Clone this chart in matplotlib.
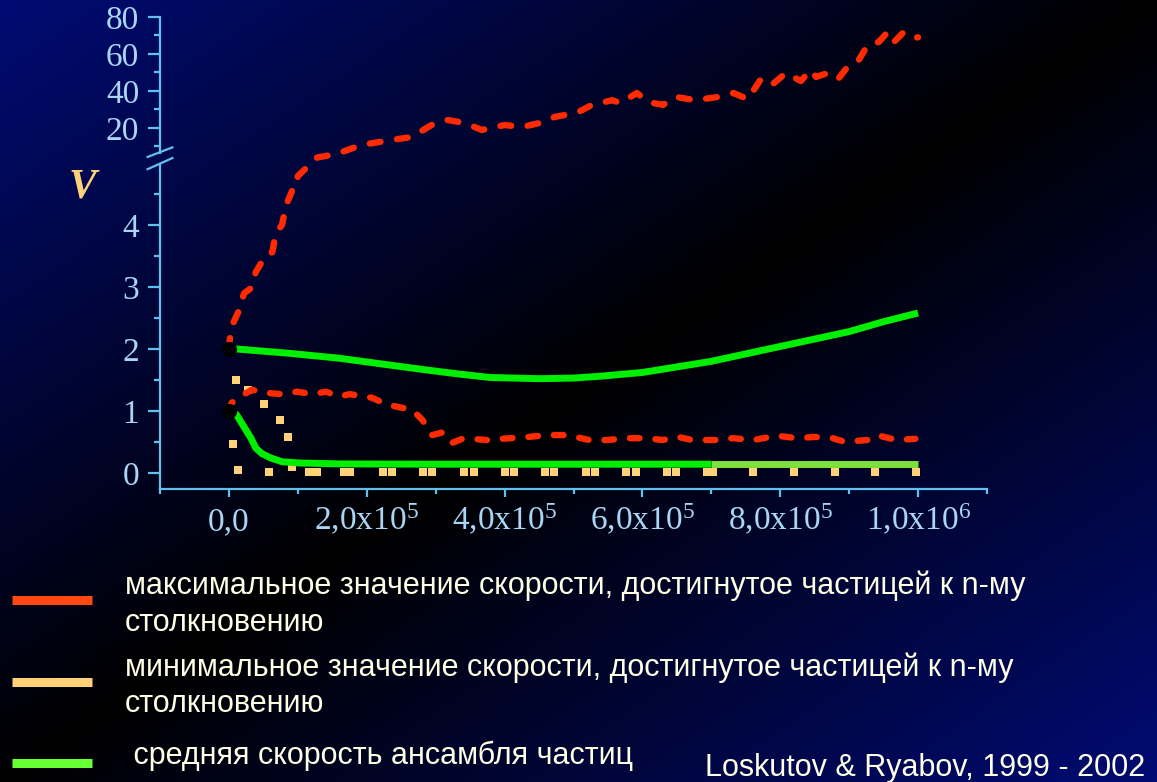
import numpy as np
import matplotlib
matplotlib.use("Agg")
import matplotlib.pyplot as plt
from matplotlib.lines import Line2D

plt.rcParams['font.family'] = 'Liberation Serif'
plt.rcParams['mathtext.fontset'] = 'custom'
plt.rcParams['mathtext.rm'] = 'Liberation Serif'
plt.rcParams['mathtext.it'] = 'Liberation Serif:italic'

# n (number of collisions) in units of 1e5
# max velocity, start V0 = 2
red_hi_x = [0, 0.03, 0.15, 0.22, 0.32, 0.39, 0.47, 0.54, 0.63, 0.68, 0.77, 0.83, 0.92, 0.98, 1.0,
            1.28, 1.5, 1.64, 1.92, 2.36, 2.65, 2.94, 3.17, 3.42, 3.67, 4.0, 4.25, 4.51, 4.73, 5.05,
            5.27, 5.56, 5.68, 5.92, 6.08, 6.3, 6.48, 6.77, 7.1, 7.32, 7.53, 7.71, 7.86, 8.08, 8.3,
            8.44, 8.52, 8.69, 8.84, 9.0, 9.14, 9.27, 9.43, 9.56, 9.65, 9.78, 9.87, 10.0]
red_hi_v = [2.0, 2.34, 2.63, 2.9, 2.98, 3.24, 3.39, 3.52, 3.56, 3.87, 4.0, 4.32, 4.56, 4.6, 4.79,
            6.0, 6.5, 7.0, 10.8, 13.5, 15.1, 21.6, 24.3, 22.7, 18.9, 21.6, 20.5, 22.7, 26.0, 28.2,
            32.5, 35.0, 33.5, 38.9, 34.0, 32.5, 36.8, 35.0, 36.8, 38.9, 35.6, 45.9, 42.7, 49.7, 45.4,
            51.4, 47.6, 49.7, 46.5, 54.1, 56.8, 64.9, 66.5, 71.9, 66.5, 71.4, 68.6, 69.0]

# max velocity, start V0 = 1
red_lo_x = [0, 0.04, 0.13, 0.33, 0.48, 0.55, 0.77, 0.99, 1.21, 1.41, 1.6, 1.75, 1.99, 2.08, 2.3,
            2.47, 2.66, 2.81, 2.95, 3.09, 3.23, 3.41, 3.74, 4.08, 4.34, 4.63, 4.91, 5.23, 5.49, 5.76,
            6.08, 6.29, 6.52, 6.72, 7.05, 7.31, 7.61, 7.95, 8.24, 8.5, 8.76, 8.94, 9.26, 9.4, 9.69, 9.96]
red_lo_v = [1.0, 1.13, 1.21, 1.34, 1.31, 1.29, 1.27, 1.31, 1.27, 1.31, 1.23, 1.27, 1.23, 1.21, 1.1,
            1.06, 1.02, 0.85, 0.61, 0.65, 0.48, 0.56, 0.53, 0.56, 0.58, 0.61, 0.61, 0.53, 0.53, 0.56,
            0.56, 0.53, 0.58, 0.53, 0.53, 0.56, 0.53, 0.6, 0.56, 0.58, 0.56, 0.5, 0.53, 0.61, 0.53, 0.55]

# mean velocity of the ensemble
mean_hi_x = [0, 0.1, 0.87, 1.6, 2.2, 2.87, 3.3, 3.78, 4.5, 5.0, 5.39, 6.0, 6.5, 7.0, 7.5, 8.0, 8.5, 9.0, 9.5, 10.0]
mean_hi_v = [2.0, 2.0, 1.93, 1.85, 1.76, 1.66, 1.6, 1.54, 1.52, 1.53, 1.56, 1.62, 1.71, 1.8, 1.92, 2.04, 2.16, 2.28, 2.44, 2.58]
mean_lo_x = [0, 0.05, 0.11, 0.22, 0.32, 0.39, 0.48, 0.61, 0.77, 1.02, 1.6, 3.0, 4.0, 5.0, 6.0, 7.0]
mean_lo_v = [1.0, 0.98, 0.94, 0.74, 0.56, 0.40, 0.31, 0.24, 0.18, 0.16, 0.145, 0.14, 0.14, 0.14, 0.14, 0.14]
mean_tail_x = [7.0, 8.0, 9.0, 10.0]
mean_tail_v = [0.14, 0.14, 0.14, 0.14]

# min velocity (sampled points)
min_hi_x = [0.11, 0.27, 0.51, 0.74, 0.86, 0.92, 1.28, 1.76, 2.37, 2.95, 3.55, 4.13, 4.72, 5.31, 5.9,
            6.49, 7.02, 7.61, 8.2, 8.79, 9.38, 9.97]
min_hi_v = [1.5, 1.33, 1.11, 0.85, 0.58, 0.1, 0.01, 0.01, 0.01, 0.01, 0.01, 0.01, 0.01, 0.01, 0.01,
            0.01, 0.01, 0.01, 0.01, 0.01, 0.01, 0.01]
min_lo_x = [0.06, 0.13, 0.58, 1.16, 1.67, 2.23, 2.82, 3.41, 4.0, 4.58, 5.18, 5.76, 6.36, 6.94]
min_lo_v = [0.47, 0.05, 0.01, 0.01, 0.01, 0.01, 0.01, 0.01, 0.01, 0.01, 0.01, 0.01, 0.01, 0.01]

start_x = [0, 0]
start_v = [2.0, 1.0]

xticks = [0, 2, 4, 6, 8, 10]
xlabels = ['0,0', r'2,0x10$^{5}$', r'4,0x10$^{5}$', r'6,0x10$^{5}$', r'8,0x10$^{5}$', r'1,0x10$^{6}$']
yticks = [0, 1, 2, 3, 4, 20, 40, 60, 80]
yminor = [0.5, 1.5, 2.5, 3.5, 4.5, 10, 30, 50, 70]

RED = '#ff2a00'
YEL = '#ffd27a'
GRN = '#00ee00'
GRN2 = '#7ee03c'
AXC = '#62bfee'
TXC = '#a8d6f4'
CREAM = '#ffffe6'


# broken y axis: linear 0..5, squeezed gap, then 7..80
def fwd(v):
    v = np.asarray(v, dtype=float)
    return np.where(v <= 5, v * 62.0, np.where(v <= 7, 310 + (v - 5) * 5.5, 321 + (v - 7) * 1.85))


def inv(p):
    p = np.asarray(p, dtype=float)
    return np.where(p <= 310, p / 62.0, np.where(p <= 321, 5 + (p - 310) / 5.5, 7 + (p - 321) / 1.85))


W, H = 1157, 782
fig = plt.figure(figsize=(W / 100, H / 100), dpi=100)

# background gradient: navy corners, black diagonal
bg = fig.add_axes([0, 0, 1, 1], zorder=0)
gx, gy = np.meshgrid(np.linspace(0, 1, 400), np.linspace(0, 1, 300))
d = np.abs(gx + gy - 1)
navy = np.array([0, 11, 115]) / 255
img = d[..., None] * navy[None, None, :]
bg.imshow(img, extent=[0, 1, 0, 1], aspect='auto', origin='upper')
bg.set_axis_off()

ax = fig.add_axes([160 / W, (H - 489) / H, 827 / W, 472 / H], zorder=1)
ax.set_facecolor('none')
ax.set_yscale('function', functions=(fwd, inv))

ax.plot(min_hi_x, min_hi_v, 's', color=YEL, ms=5.8, mew=0, zorder=2)
ax.plot(min_lo_x, min_lo_v, 's', color=YEL, ms=5.8, mew=0, zorder=2)

ax.plot(mean_tail_x, mean_tail_v, color=GRN2, lw=5, solid_capstyle='butt', zorder=3)
ax.plot(mean_lo_x, mean_lo_v, color=GRN, lw=5, solid_capstyle='butt', solid_joinstyle='round', zorder=3)
ax.plot(mean_hi_x, mean_hi_v, color=GRN, lw=5, solid_capstyle='butt', solid_joinstyle='round', zorder=3)

ax.plot(red_hi_x, red_hi_v, color=RED, lw=4.6, linestyle=(0, (1.7, 2.6)),
        dash_capstyle='round', zorder=4)
ax.plot(red_lo_x, red_lo_v, color=RED, lw=4.6, linestyle=(0, (1.5, 2.5)),
        dash_capstyle='round', zorder=4)

ax.plot(start_x, start_v, 'o', color='black', ms=10, zorder=5)

ax.set_xlim(-1, 11)
ax.set_ylim(-0.26, 80)

ax.set_xticks(xticks)
ax.set_xticklabels(xlabels)
ax.set_xticks([-1, 1, 3, 5, 7, 9, 11], minor=True)
ax.set_yticks(yticks)
ax.set_yticklabels([str(t) for t in yticks])
ax.set_yticks(yminor, minor=True)

ax.tick_params(axis='both', which='both', colors=AXC, width=1.6, direction='out')
ax.tick_params(axis='both', which='major', labelcolor=TXC, labelsize=24)
ax.tick_params(axis='x', which='major', length=6, pad=24)
ax.tick_params(axis='x', which='minor', length=3.5)
ax.tick_params(axis='y', which='major', length=9, pad=6)
ax.tick_params(axis='y', which='minor', length=4.5)
for lab in ax.get_xticklabels():
    lab.set_verticalalignment('baseline')

for s in ['top', 'right', 'left']:
    ax.spines[s].set_visible(False)
ax.spines['bottom'].set_color(AXC)
ax.spines['bottom'].set_linewidth(1.6)

# left spine drawn in two pieces with break marks
yt = ax.get_yaxis_transform()
ax.plot([0, 0], [-0.26, 4.98], color=AXC, lw=1.6, transform=yt, clip_on=False, zorder=6)
ax.plot([0, 0], [6.8, 80], color=AXC, lw=1.6, transform=yt, clip_on=False, zorder=6)
ax.plot([-0.015, 0.015], [4.9, 5.9], color=AXC, lw=1.6, transform=yt, clip_on=False, zorder=6)
ax.plot([-0.015, 0.015], [6.1, 9.5], color=AXC, lw=1.6, transform=yt, clip_on=False, zorder=6)

fig.text(82 / W, 1 - 187 / H, 'V', color=YEL, fontsize=30, style='italic', weight='bold',
         ha='center', va='center', family='Liberation Serif')

# legend
leg_lines = [
    (600, '#ff4812', [(594, 'максимальное значение скорости, достигнутое частицей к n-му'), (631, 'столкновению')]),
    (682, YEL, [(676, 'минимальное значение скорости, достигнутое частицей к n-му'), (712, 'столкновению')]),
    (763, '#66ff33', [(764, ' средняя скорость ансамбля частиц')]),
]
for sy, col, rows in leg_lines:
    fig.add_artist(Line2D([12 / W, 92 / W], [1 - sy / H, 1 - sy / H], color=col, lw=6.5,
                          solid_capstyle='butt'))
    for by, txt in rows:
        fig.text(125 / W, 1 - by / H, txt, color=CREAM, fontsize=22, family='Liberation Sans',
                 ha='left', va='baseline')

fig.text(1145 / W, 1 - 776 / H, 'Loskutov & Ryabov, 1999 - 2002', color=CREAM, fontsize=22,
         family='Liberation Sans', ha='right', va='baseline')

fig.savefig('out.png', dpi=100)
